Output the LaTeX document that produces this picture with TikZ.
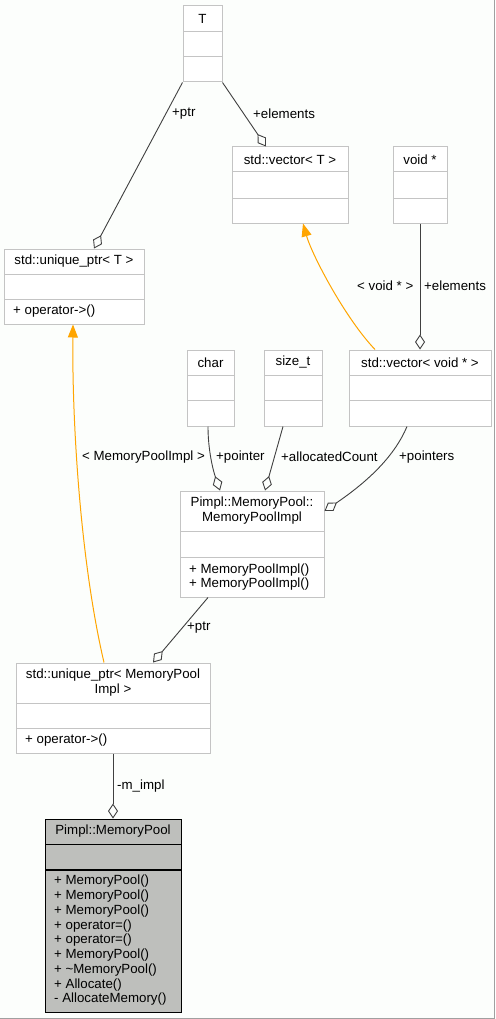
\documentclass[tikz,border=0pt]{standalone}
\usepackage{fontspec}
\setmainfont{Liberation Sans}
\usetikzlibrary{arrows.meta,calc}
\definecolor{bg}{HTML}{FCFEFC}
\definecolor{boxgray}{HTML}{C4C4C4}
\definecolor{edgec}{HTML}{404040}
\definecolor{inhc}{HTML}{FFA500}
\definecolor{fillgray}{HTML}{BEBFBC}
\definecolor{framec}{HTML}{A0A0A0}
\tikzset{
  box/.style={draw=boxgray, line width=1pt, inner sep=0pt, fill=white},
  sepl/.style={draw=boxgray, line width=1pt},
  txt/.style={font=\fontsize{13.3}{14.5}\selectfont, inner sep=0pt},
  lab/.style={txt, anchor=west},
  agg/.style={draw=edgec, line width=0.9pt, -{Diamond[open, length=15pt, width=10pt, line width=0.9pt]}},
  inhr/.style={draw=inhc, line width=1pt, -{Triangle[length=13pt, width=10pt]}},
}
\begin{document}
\begin{tikzpicture}[x=1pt,y=-1pt]
\useasboundingbox (0,0) rectangle (495,1019);
\fill[bg] (0,0) rectangle (495,1019);
\draw[framec, line width=1pt] (494.5,0) -- (494.5,1018.5) -- (0,1018.5);

% boxes
\node[box, minimum width=39pt, minimum height=76pt] (T) at (202.5,44) {};
\draw[sepl] (183,32) -- (222,32); \draw[sepl] (183,57) -- (222,57);
\node[txt] (tT) at (202.5,19) {T};

\node[box, minimum width=116pt, minimum height=76pt] (vT) at (290,185) {};
\draw[sepl] (232,172) -- (348,172); \draw[sepl] (232,198) -- (348,198);
\node[txt] (tvT) at (290,159.5) {std::vector< T >};

\node[box, minimum width=54pt, minimum height=76pt] (vp) at (420,185) {};
\draw[sepl] (393,172) -- (447,172); \draw[sepl] (393,198) -- (447,198);
\node[txt] (tvp) at (420,159.5) {void *};

\node[box, minimum width=140pt, minimum height=75pt] (uT) at (74,286.5) {};
\draw[sepl] (4,274) -- (144,274); \draw[sepl] (4,299) -- (144,299);
\node[txt] (tuT) at (74,261.5) {std::unique\_ptr< T >};
\node[txt, anchor=west] (muT) at (13,311.5) {+ operator->()};

\node[box, minimum width=47pt, minimum height=76pt] (ch) at (210.5,388) {};
\draw[sepl] (187,375) -- (234,375); \draw[sepl] (187,400) -- (234,400);
\node[txt] (tch) at (210.5,362.5) {char};

\node[box, minimum width=58pt, minimum height=76pt] (st) at (293,388) {};
\draw[sepl] (264,375) -- (322,375); \draw[sepl] (264,400) -- (322,400);
\node[txt] (tst) at (293,362.5) {size\_t};

\node[box, minimum width=142pt, minimum height=76pt] (vv) at (420,388) {};
\draw[sepl] (349,375) -- (491,375); \draw[sepl] (349,400) -- (491,400);
\node[txt] (tvv) at (420,362.5) {std::vector< void * >};

\node[box, minimum width=144pt, minimum height=106pt] (MPI) at (252,544) {};
\draw[sepl] (180,531) -- (324,531); \draw[sepl] (180,557) -- (324,557);
\node[txt, align=center] (tMPI) at (252,510.5) {Pimpl::MemoryPool::\\MemoryPoolImpl};
\node[txt, align=left, anchor=west] (mMPI) at (189,577) {+ MemoryPoolImpl()\\+ MemoryPoolImpl()};

\node[box, minimum width=194pt, minimum height=90pt] (uM) at (113,708) {};
\draw[sepl] (16,703) -- (210,703); \draw[sepl] (16,728) -- (210,728);
\node[txt, align=center] (tuM) at (113,682.5) {std::unique\_ptr< MemoryPool\\Impl >};
\node[txt, anchor=west] (muM) at (25,740.5) {+ operator->()};

\node[draw=black, fill=fillgray, line width=1pt, inner sep=0pt, minimum width=136pt, minimum height=193pt] (MP) at (113,915.5) {};
\draw[black, line width=1pt] (45,844) -- (181,844); \draw[black, line width=1.3pt] (45,870) -- (181,870);
\node[txt] (tMP) at (113,831.5) {Pimpl::MemoryPool};
\node[txt, align=left, anchor=west, font=\fontsize{13.3}{14.75}\selectfont] (mMP) at (54,940.5) {+ MemoryPool()\\+ MemoryPool()\\+ MemoryPool()\\+ operator=()\\+ operator=()\\+ MemoryPool()\\+ \textasciitilde MemoryPool()\\+ Allocate()\\- AllocateMemory()};

% connectors
\draw[agg] (T.south west) -- ([xshift=20pt]uT.north);
\draw[agg] (T.south east) -- ([xshift=-24pt]vT.north);
\draw[inhr] ([xshift=-45pt]vv.north) .. controls (345,318) and (312,255) .. ([xshift=13pt]vT.south);
\draw[agg] (vp.south) -- (vv.north);
\draw[inhr] ([xshift=-9pt]uM.north) .. controls (80,560) and (72,420) .. ([xshift=-1pt]uT.south);
\draw[agg] ([xshift=-2.5pt]ch.south) .. controls (208,450) and (213,470) .. ([xshift=-32pt]MPI.north);
\draw[agg] ([xshift=-10pt]st.south) -- ([xshift=13pt]MPI.north);
\draw[agg] ([xshift=-13pt]vv.south) .. controls (395,455) and (370,480) .. ([yshift=33pt]MPI.east);
\draw[agg] ([xshift=-44pt]MPI.south) -- ([xshift=40pt]uM.north);
\draw[agg] (uM.south) -- (MP.north);

% labels
\node[lab] (l1) at (172,114) {+ptr};
\node[lab] (l2) at (253,114) {+elements};
\node[lab] (l3) at (357,286) {< void * >};
\node[lab] (l4) at (424,286) {+elements};
\node[lab] (l5) at (82,457) {< MemoryPoolImpl >};
\node[lab] (l6) at (216,457) {+pointer};
\node[lab] (l7) at (281,457) {+allocatedCount};
\node[lab] (l8) at (399,457) {+pointers};
\node[lab] (l9) at (187,628) {+ptr};
\node[lab] (l10) at (117,786) {-m\_impl};
\end{tikzpicture}
\end{document}
